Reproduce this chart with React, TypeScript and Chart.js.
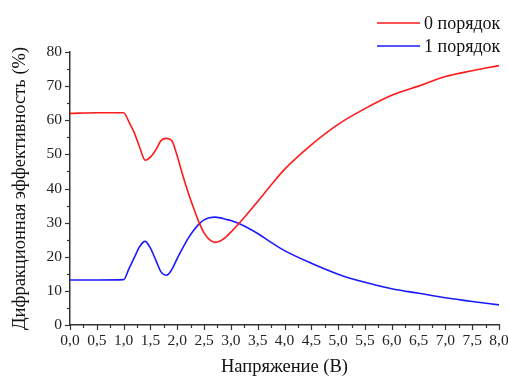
import React, { useEffect, useRef } from "react";
import { Chart, registerables } from "chart.js";

Chart.register(...registerables);

// ---- data ----
const voltage = [0, 0.5, 1.0, 1.1, 1.2, 1.3, 1.4, 1.5, 1.6, 1.7, 1.8, 1.9, 2.0, 2.1, 2.2, 2.3, 2.4, 2.5, 2.6, 2.7, 2.8, 2.9, 3.0, 3.25, 3.5, 3.75, 4.0, 4.5, 5.0, 5.5, 6.0, 6.5, 7.0, 7.5, 8.0];
const order0 = [62.0, 62.2, 62.2, 59.5, 56.3, 52.0, 48.3, 49.2, 51.3, 54.1, 54.7, 54.0, 49.5, 44.0, 39.0, 34.5, 30.3, 27.0, 25.0, 24.2, 24.6, 25.7, 27.2, 31.5, 36.2, 41.0, 45.6, 52.8, 58.8, 63.4, 67.3, 70.0, 72.8, 74.5, 76.0];
const order1 = [13.2, 13.2, 13.3, 16.5, 19.8, 23.0, 24.5, 22.5, 19.0, 15.5, 14.6, 16.3, 19.5, 22.5, 25.3, 27.6, 29.5, 30.8, 31.4, 31.6, 31.4, 31.0, 30.6, 29.0, 26.8, 24.2, 21.8, 18.1, 14.9, 12.5, 10.6, 9.3, 8.0, 6.9, 5.9];
const seriesLabels = ["0 порядок", "1 порядок"];
const seriesColors = ["#ff1a1a", "#1a1aff"];
const xRange = [0, 8];
const xStep = 0.5;
const yRange = [0, 80];
const yStep = 10;
const xTitle = "Напряжение (В)";
const yTitle = "Дифракционная эффективность (%)";

const FONT = "'Liberation Serif', 'Times New Roman', serif";
const AXIS = "#333333";

const axisTicksPlugin = {
  id: "axisTicks",
  afterDraw(chart: any) {
    const { ctx, chartArea, scales } = chart;
    const x = scales.x;
    const y = scales.y;
    ctx.save();
    ctx.strokeStyle = AXIS;
    ctx.lineWidth = 1.2;
    const xMinor = xStep / 2;
    const nx = Math.round((xRange[1] - xRange[0]) / xMinor);
    for (let i = 0; i <= nx; i++) {
      const v = xRange[0] + i * xMinor;
      const px = Math.round(x.getPixelForValue(v)) + 0.5;
      const len = i % 2 === 0 ? 5 : 3;
      ctx.beginPath();
      ctx.moveTo(px, chartArea.bottom);
      ctx.lineTo(px, chartArea.bottom + len);
      ctx.stroke();
    }
    const yMinor = yStep / 2;
    const ny = Math.round((yRange[1] - yRange[0]) / yMinor);
    for (let i = 0; i <= ny; i++) {
      const v = yRange[0] + i * yMinor;
      const py = Math.round(y.getPixelForValue(v)) + 0.5;
      const len = i % 2 === 0 ? 5 : 3;
      ctx.beginPath();
      ctx.moveTo(chartArea.left, py);
      ctx.lineTo(chartArea.left - len, py);
      ctx.stroke();
    }
    ctx.restore();
  },
};

const legendPlugin = {
  id: "customLegend",
  afterDraw(chart: any) {
    const { ctx } = chart;
    ctx.save();
    ctx.font = `18px ${FONT}`;
    ctx.textBaseline = "middle";
    ctx.textAlign = "left";
    chart.data.datasets.forEach((ds: any, i: number) => {
      const yy = 23 + i * 23;
      ctx.strokeStyle = ds.borderColor;
      ctx.lineWidth = 1.5;
      ctx.beginPath();
      ctx.moveTo(377, yy);
      ctx.lineTo(420, yy);
      ctx.stroke();
      ctx.fillStyle = "#111";
      ctx.fillText(ds.label, 424, yy + 1);
    });
    ctx.restore();
  },
};

export default function App() {
  const ref = useRef<HTMLCanvasElement | null>(null);
  useEffect(() => {
    if (!ref.current) return;
    const mk = (vals: number[]) => voltage.map((v, i) => ({ x: v, y: vals[i] }));
    const chart = new Chart(ref.current, {
      type: "line",
      data: {
        datasets: [order0, order1].map((vals, i) => ({
          label: seriesLabels[i],
          data: mk(vals),
          borderColor: seriesColors[i],
          backgroundColor: seriesColors[i],
          borderWidth: 1.6,
          pointRadius: 0,
          cubicInterpolationMode: "monotone" as const,
          fill: false,
        })),
      },
      options: {
        animation: false,
        responsive: true,
        maintainAspectRatio: false,
        layout: { padding: { top: 52, right: 9, left: 0, bottom: 0 } },
        plugins: { legend: { display: false }, tooltip: { enabled: false } },
        scales: {
          x: {
            type: "linear",
            min: xRange[0],
            max: xRange[1],
            grid: { display: false, drawTicks: false },
            border: { display: true, color: AXIS, width: 1.5 },
            ticks: {
              stepSize: xStep,
              padding: 7,
              color: "#222",
              font: { family: FONT, size: 15.5 },
              maxRotation: 0,
              autoSkip: false,
              callback: (v: any) => Number(v).toFixed(1).replace(".", ","),
            },
            title: {
              display: true,
              text: xTitle,
              color: "#111",
              font: { family: FONT, size: 18.5, lineHeight: 1 },
              padding: 0,
            },
            afterFit: (s: any) => {
              s.height = 51;
              s.paddingLeft = 0;
              s.paddingRight = 0;
            },
          },
          y: {
            type: "linear",
            min: yRange[0],
            max: yRange[1],
            grid: { display: false, drawTicks: false },
            border: { display: true, color: AXIS, width: 1.5 },
            ticks: {
              stepSize: yStep,
              padding: 8,
              color: "#222",
              font: { family: FONT, size: 15.5 },
            },
            title: {
              display: true,
              text: yTitle,
              color: "#111",
              font: { family: FONT, size: 18.5, lineHeight: 1.2 },
              padding: { top: 9, bottom: 0 },
            },
            afterFit: (s: any) => {
              s.width = 70;
              s.paddingTop = 0;
              s.paddingBottom = 0;
            },
          },
        },
      },
      plugins: [axisTicksPlugin, legendPlugin],
    });
    return () => chart.destroy();
  }, []);
  return (
    <div style={{ position: "absolute", left: 0, top: 0, width: 508, height: 376, background: "#fff" }}>
      <canvas ref={ref} />
    </div>
  );
}
